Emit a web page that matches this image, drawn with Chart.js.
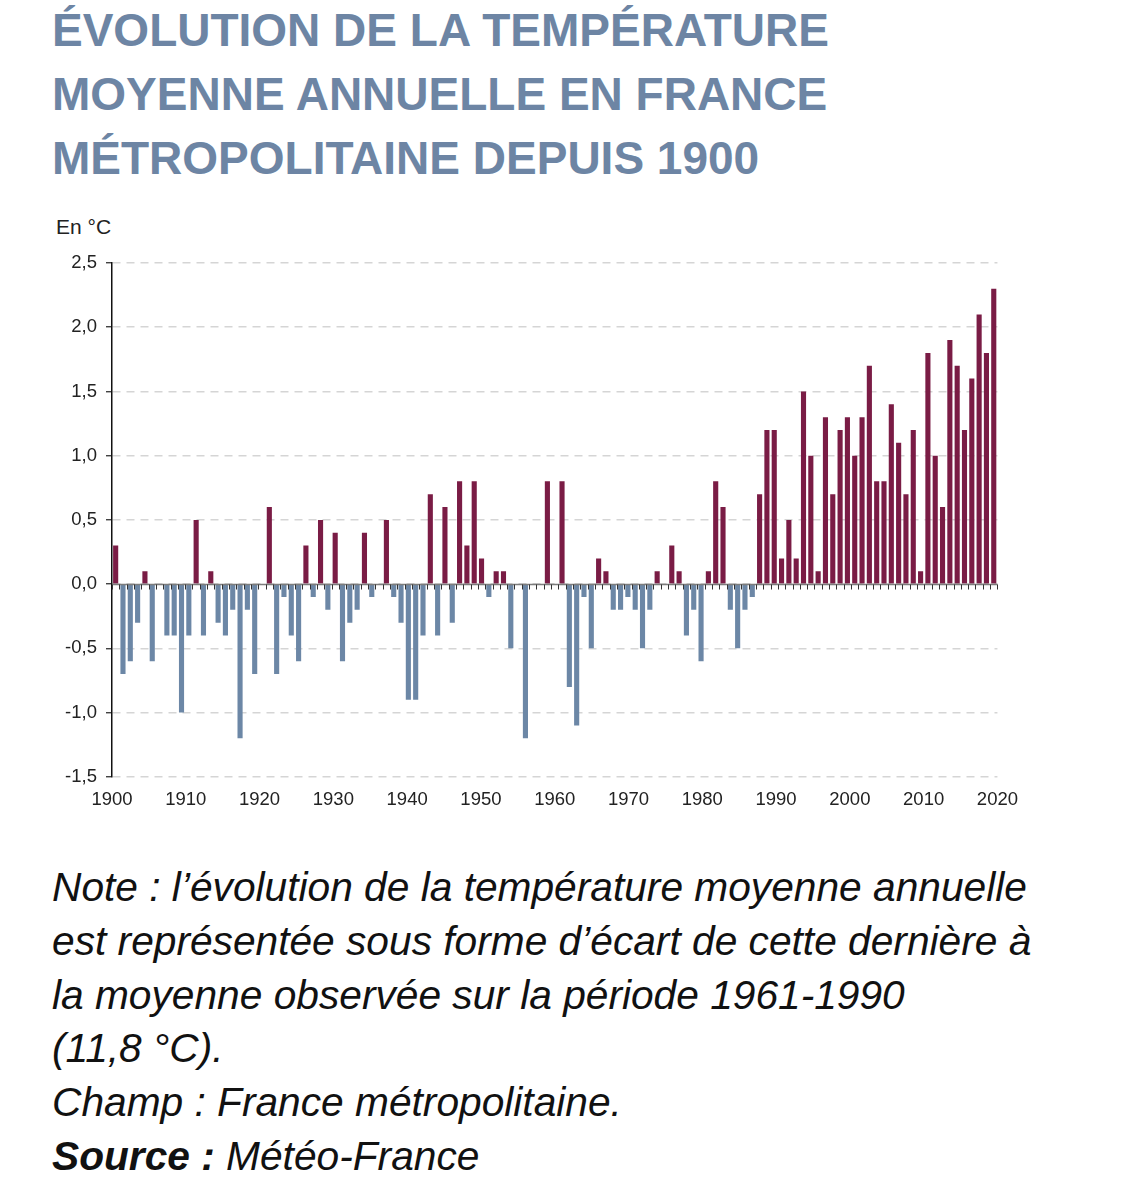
<!DOCTYPE html>
<html lang="fr">
<head>
<meta charset="utf-8">
<script src="https://cdn.jsdelivr.net/npm/chart.js@4.4.1/dist/chart.umd.min.js"></script>
<style>
  body { margin: 0; background: #fff; font-family: "Liberation Sans", Arial, Helvetica, sans-serif; width: 1125px; height: 1195px; position: relative; overflow: hidden; }
  #title { position: absolute; left: 52px; top: -2px; margin: 0; font-size: 46px; line-height: 64px; font-weight: bold; color: #6d85a4; white-space: nowrap; }
  #unit { position: absolute; left: 56px; top: 215px; font-size: 21px; color: #222; }
  #wrap { position: absolute; left: 0; top: 240px; width: 1030px; height: 585px; }
  #note { position: absolute; left: 52px; top: 861px; font-size: 40.7px; line-height: 53.8px; font-style: italic; color: #111; white-space: nowrap; }
</style>
</head>
<body>
<h1 id="title">ÉVOLUTION DE LA TEMPÉRATURE<br>MOYENNE ANNUELLE EN FRANCE<br>MÉTROPOLITAINE DEPUIS 1900</h1>
<div id="unit">En °C</div>
<div id="wrap"><canvas id="chart"></canvas></div>
<div id="note">Note : l’évolution de la température moyenne annuelle<br>est représentée sous forme d’écart de cette dernière à<br>la moyenne observée sur la période 1961-1990<br>(11,8 °C).<br>Champ : France métropolitaine.<br><b>Source :</b> Météo-France</div>
<script>
// years 1900 -> 2020
const years = [];
for (let y = 1900; y <= 2020; y++) years.push(String(y));

// écart à la moyenne 1961-1990, en °C
const ecarts = [
  0.3, -0.7, -0.6, -0.3, 0.1, -0.6, 0, -0.4, -0.4, -1.0,   // 1900-1909
  -0.4, 0.5, -0.4, 0.1, -0.3, -0.4, -0.2, -1.2, -0.2, -0.7, // 1910-1919
  0, 0.6, -0.7, -0.1, -0.4, -0.6, 0.3, -0.1, 0.5, -0.2,     // 1920-1929
  0.4, -0.6, -0.3, -0.2, 0.4, -0.1, 0, 0.5, -0.1, -0.3,     // 1930-1939
  -0.9, -0.9, -0.4, 0.7, -0.4, 0.6, -0.3, 0.8, 0.3, 0.8,    // 1940-1949
  0.2, -0.1, 0.1, 0.1, -0.5, 0, -1.2, 0, 0, 0.8,            // 1950-1959
  0, 0.8, -0.8, -1.1, -0.1, -0.5, 0.2, 0.1, -0.2, -0.2,     // 1960-1969
  -0.1, -0.2, -0.5, -0.2, 0.1, 0, 0.3, 0.1, -0.4, -0.2,     // 1970-1979
  -0.6, 0.1, 0.8, 0.6, -0.2, -0.5, -0.2, -0.1, 0.7, 1.2,    // 1980-1989
  1.2, 0.2, 0.5, 0.2, 1.5, 1.0, 0.1, 1.3, 0.7, 1.2,         // 1990-1999
  1.3, 1.0, 1.3, 1.7, 0.8, 0.8, 1.4, 1.1, 0.7, 1.2,         // 2000-2009
  0.1, 1.8, 1.0, 0.6, 1.9, 1.7, 1.2, 1.6, 2.1, 1.8,         // 2010-2019
  2.3                                                       // 2020
];

const yTicks = [-1.5, -1.0, -0.5, 0, 0.5, 1.0, 1.5, 2.0, 2.5];

const RED = '#7a1c45';
const BLUE = '#6c87a6';
const FONT = '"Liberation Sans", Arial, sans-serif';

// zero line with little ticks between the years
const zeroLine = {
  id: 'zeroLine',
  afterDatasetsDraw(chart) {
    const {ctx, chartArea, scales} = chart;
    const y0 = Math.round(scales.y.getPixelForValue(0)) + 0.5;
    const x = scales.x;
    const slot = (x.getPixelForValue(1) - x.getPixelForValue(0));
    ctx.save();
    ctx.strokeStyle = '#7d7d7d';
    ctx.lineWidth = 1.5;
    ctx.beginPath();
    ctx.moveTo(chartArea.left, y0);
    ctx.lineTo(chartArea.right, y0);
    ctx.stroke();
    ctx.strokeStyle = '#333';
    ctx.lineWidth = 1;
    ctx.beginPath();
    for (let i = 0; i <= years.length; i++) {
      const px = Math.round(x.getPixelForValue(0) - slot / 2 + i * slot) + 0.5;
      ctx.moveTo(px, y0);
      ctx.lineTo(px, y0 + 5);
    }
    ctx.stroke();
    ctx.restore();
  }
};

new Chart(document.getElementById('chart'), {
  type: 'bar',
  data: {
    labels: years,
    datasets: [{
      data: ecarts,
      backgroundColor: ecarts.map(v => v >= 0 ? RED : BLUE),
      barPercentage: 0.7,
      categoryPercentage: 1.0
    }]
  },
  options: {
    responsive: true,
    maintainAspectRatio: false,
    animation: false,
    layout: { padding: { top: 23, right: 0, bottom: 2, left: 0 } },
    plugins: { legend: { display: false }, tooltip: { enabled: false } },
    scales: {
      x: { display: false },
      x2: {
        type: 'linear',
        position: 'bottom',
        offset: false,
        min: 1900,
        max: 2020,
        grid: { display: false, drawTicks: false, offset: false },
        border: { display: false },
        ticks: {
          stepSize: 10,
          padding: 12,
          color: '#222',
          maxRotation: 0,
          font: { family: FONT, size: 18.5 },
          callback: v => String(v)
        }
      },
      y: {
        min: -1.5,
        max: 2.5,
        afterFit: s => { s.width = 112; },
        afterBuildTicks: s => { s.ticks = yTicks.map(v => ({ value: v })); },
        grid: { color: '#d5d5d5', lineWidth: 1.5, tickColor: '#222', tickLength: 6, tickWidth: 1.2, tickBorderDash: [] },
        border: { color: '#111', width: 1.5, dash: [8, 6] },
        ticks: {
          padding: 9,
          color: '#222',
          font: { family: FONT, size: 18.5 },
          callback: v => v.toFixed(1).replace('.', ',')
        }
      }
    }
  },
  plugins: [zeroLine]
});
</script>
</body>
</html>
